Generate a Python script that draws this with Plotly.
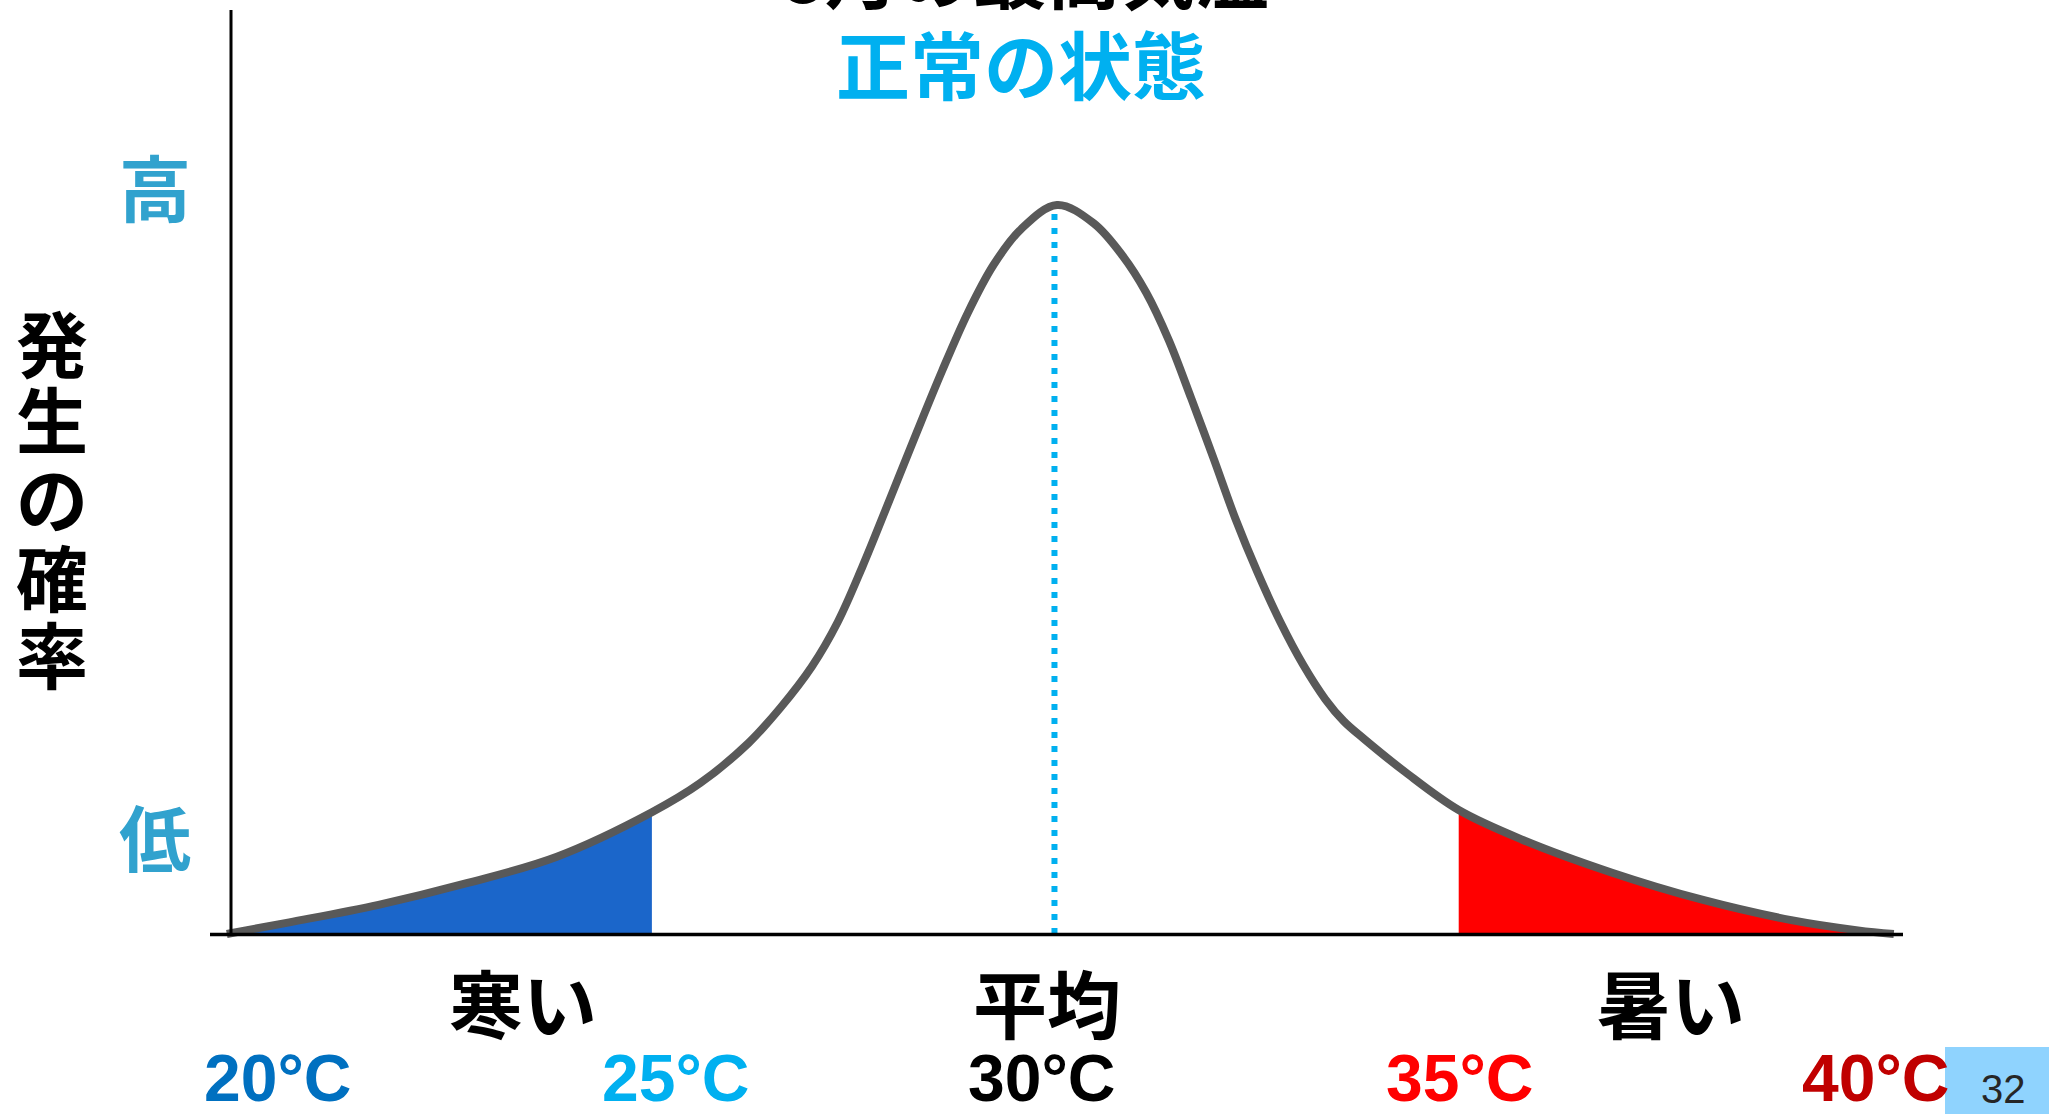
import plotly.graph_objects as go

# ---- data ----
temp = [20.00, 20.75, 21.82, 22.89, 23.96, 25.10, 25.68, 26.26, 26.64, 27.02, 27.33, 27.63,
        27.95, 28.27, 28.58, 28.89, 29.20, 29.53, 29.96, 30.40, 30.75, 31.03, 31.30, 31.57,
        31.84, 32.10, 32.37, 32.64, 32.91, 33.18, 33.40, 33.64, 34.14, 34.78, 35.55, 36.62,
        37.70, 38.77, 39.57, 40.00]
prob = [0.000, 0.016, 0.040, 0.070, 0.106, 0.167, 0.207, 0.262, 0.310, 0.367, 0.428, 0.505,
        0.595, 0.686, 0.772, 0.852, 0.918, 0.967, 1.000, 0.975, 0.930, 0.880, 0.815, 0.735,
        0.652, 0.570, 0.495, 0.428, 0.370, 0.322, 0.292, 0.268, 0.222, 0.170, 0.129, 0.084,
        0.047, 0.019, 0.005, 0.000]
cold_limit = 25.10
hot_limit = 34.78
mean_temp = 29.93

temp_labels = ["20°C", "25°C", "30°C", "35°C", "40°C"]
temp_label_colors = ["#0070C0", "#00B0F0", "#000000", "#FF0000", "#C00000"]
category_labels = ["寒い", "平均", "暑い"]
title_top = "8月の最高気温"
subtitle = "正常の状態"
y_title_chars = list("発生の確率")
y_high, y_low = "高", "低"
page_number = "32"

W, H = 2049, 1114
CJK = "Noto Sans CJK JP"
NUM = "Liberation Sans Narrow, Liberation Sans, Arial, sans-serif"


def px(x):
    return x / W


def py(y):
    return 1 - y / H


fig = go.Figure()

cold_x = [t for t in temp if t <= cold_limit]
cold_y = [p for t, p in zip(temp, prob) if t <= cold_limit]
hot_x = [t for t in temp if t >= hot_limit]
hot_y = [p for t, p in zip(temp, prob) if t >= hot_limit]

fig.add_trace(go.Scatter(x=cold_x, y=cold_y, mode="lines", fill="tozeroy",
                         fillcolor="#1B66CA", line=dict(width=0, shape="spline", smoothing=1.0),
                         hoverinfo="skip"))
fig.add_trace(go.Scatter(x=hot_x, y=hot_y, mode="lines", fill="tozeroy",
                         fillcolor="#FF0000", line=dict(width=0, shape="spline", smoothing=1.0),
                         hoverinfo="skip"))
fig.add_trace(go.Scatter(x=[mean_temp, mean_temp], y=[0, max(prob) * 0.99], mode="lines",
                         line=dict(color="#00B0F0", width=6, dash="6px,8px"), hoverinfo="skip"))
fig.add_trace(go.Scatter(x=temp, y=prob, mode="lines",
                         line=dict(color="#595959", width=8, shape="spline", smoothing=1.0),
                         hoverinfo="skip"))

shapes = [
    # y axis line
    dict(type="line", xref="paper", yref="paper", x0=px(231), x1=px(231), y0=py(10), y1=py(935),
         line=dict(color="black", width=3)),
    # x axis line
    dict(type="line", xref="paper", yref="paper", x0=px(210), x1=px(1903), y0=py(934.5), y1=py(934.5),
         line=dict(color="black", width=3.5)),
    # page number box
    dict(type="rect", xref="paper", yref="paper", x0=px(1945), x1=1, y0=0, y1=py(1047),
         fillcolor="#8FD3FE", line=dict(width=0), layer="above"),
]

ann = []
ann.append(dict(text=title_top, x=px(1025), y=py(-30), font=dict(family=CJK, size=74, color="black", weight="bold")))
ann.append(dict(text=subtitle, x=px(1021), y=py(62), font=dict(family=CJK, size=74, color="#00B0F0", weight="bold")))
ann.append(dict(text=y_high, x=px(155), y=py(184), font=dict(family=CJK, size=72, color="#31A2CE", weight="bold")))
ann.append(dict(text=y_low, x=px(155), y=py(835), font=dict(family=CJK, size=72, color="#31A2CE", weight="bold")))
for ch, yy in zip(y_title_chars, [340, 416, 496, 574, 651]):
    ann.append(dict(text=ch, x=px(52), y=py(yy),
                    font=dict(family=CJK, size=72, color="black", weight="bold")))
for lab, xx in zip(category_labels, [523, 1047, 1671]):
    ann.append(dict(text=lab, x=px(xx), y=py(1000), font=dict(family=CJK, size=74, color="black", weight="bold")))
for lab, col, xx in zip(temp_labels, temp_label_colors, [277, 675, 1041, 1459, 1875]):
    ann.append(dict(text=lab, x=px(xx), y=py(1078), font=dict(family=NUM, size=66, color=col, weight="bold")))
ann.append(dict(text=page_number, x=px(2003), y=py(1089), font=dict(family=NUM, size=40, color="#262626")))

for a in ann:
    a.update(xref="paper", yref="paper", xanchor="center", yanchor="middle", showarrow=False)

fig.update_layout(
    width=W, height=H, autosize=False,
    margin=dict(l=0, r=0, t=0, b=0, pad=0),
    paper_bgcolor="white", plot_bgcolor="white",
    showlegend=False,
    xaxis=dict(range=[20 + (0 - 226.8) / 83.35, 20 + (W - 226.8) / 83.35], visible=False, fixedrange=True),
    yaxis=dict(range=[(934 - H) / 729, 934 / 729], visible=False, fixedrange=True),
    shapes=shapes,
    annotations=ann,
)

fig.write_html("out.html", config={"displayModeBar": False},
               post_script="document.body.style.margin='0';document.body.style.overflow='hidden';")
